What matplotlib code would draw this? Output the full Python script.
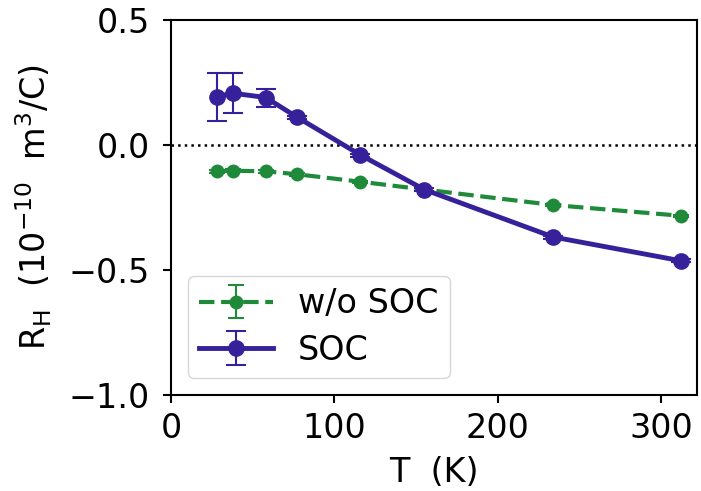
import matplotlib
matplotlib.use("Agg")
import matplotlib.pyplot as plt

# Hall coefficient vs temperature
T_nosoc = [28, 38, 58, 77, 116, 155, 234, 312]
R_nosoc = [-0.105, -0.103, -0.105, -0.117, -0.147, -0.178, -0.240, -0.283]
err_nosoc = [0.006, 0.006, 0.006, 0.005, 0.005, 0.005, 0.005, 0.005]

T_soc = [28, 38, 58, 77, 116, 155, 234, 312]
R_soc = [0.193, 0.207, 0.190, 0.112, -0.040, -0.178, -0.368, -0.463]
err_soc = [0.095, 0.080, 0.036, 0.006, 0.006, 0.006, 0.006, 0.006]

green = "#1e8a3a"
blue = "#37219b"

fig = plt.figure(figsize=(7.01, 4.91), dpi=100)
ax = fig.add_axes([171/701, 1 - 395/491, (697 - 171)/701, (395 - 20)/491])

ax.axhline(0, color="black", linestyle=":", linewidth=1.8, zorder=1)

ax.errorbar(T_nosoc, R_nosoc, yerr=err_nosoc, color=green, linestyle="--",
            linewidth=3, marker="o", markersize=9, capsize=6, elinewidth=1.5,
            capthick=1.5, label="w/o SOC", zorder=3)
ax.errorbar(T_soc, R_soc, yerr=err_soc, color=blue, linestyle="-",
            linewidth=3.5, marker="o", markersize=11, capsize=7, elinewidth=1.5,
            capthick=1.5, label="SOC", zorder=4)

ax.set_xlim(0, 322)
ax.set_ylim(-1.0, 0.5)
ax.set_xticks([0, 100, 200, 300])
ax.set_yticks([-1.0, -0.5, 0.0, 0.5])

ax.tick_params(labelsize=24, length=6, width=1.5)
ax.tick_params(axis="y", pad=9)
ax.tick_params(axis="x", pad=6.5)
for s in ax.spines.values():
    s.set_linewidth(1.5)

ax.set_xlabel("T  (K)", fontsize=24, labelpad=8)
ax.set_ylabel(r"R$_{\rm H}$  (10$^{-10}$  m$^3$/C)", fontsize=24, labelpad=11)

ax.legend(loc="lower left", fontsize=24, handlelength=2.2, handletextpad=0.75,
          borderpad=0.35, labelspacing=0.4, framealpha=0.8)

fig.savefig("out.png", dpi=100)
